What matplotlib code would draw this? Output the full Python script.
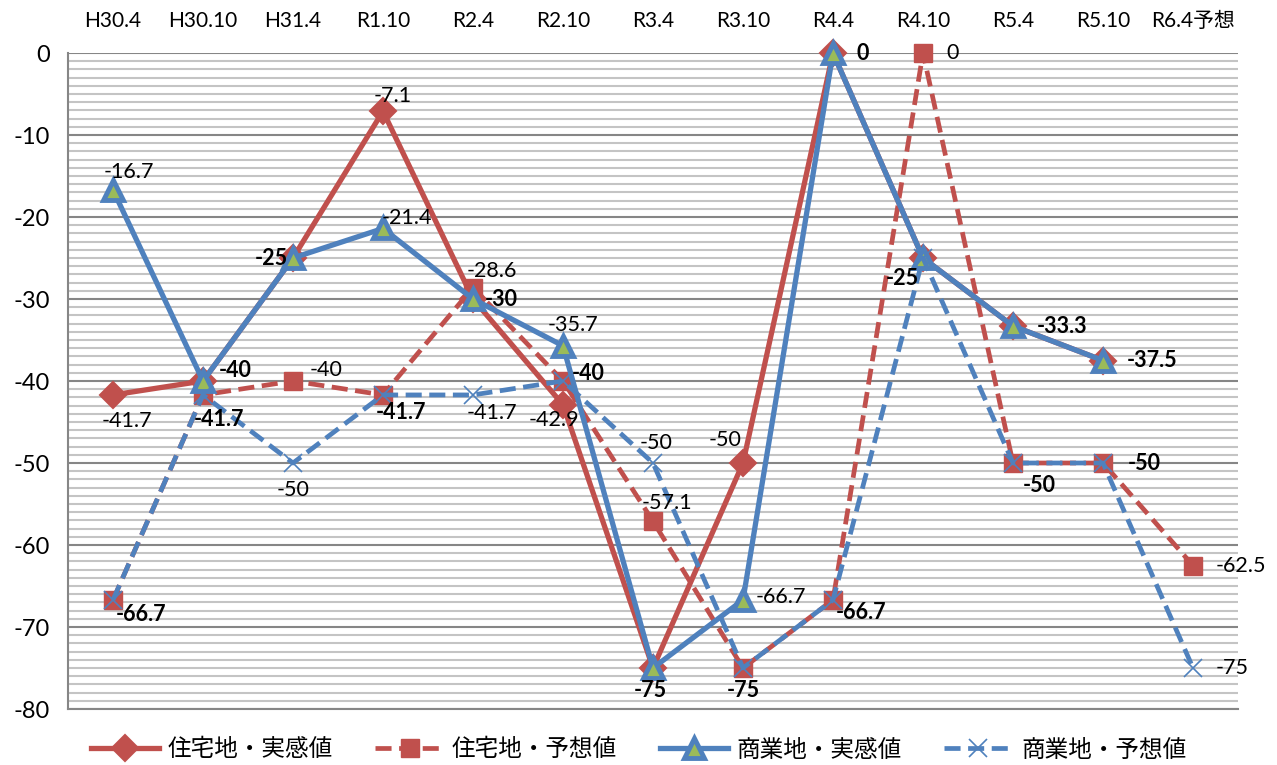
import numpy as np
import matplotlib
matplotlib.use('Agg')
import matplotlib.pyplot as plt
from matplotlib.ticker import MultipleLocator
from collections import Counter

plt.rcParams['font.family'] = ['Lato', 'Noto Sans CJK JP']

periods = ['H30.4', 'H30.10', 'H31.4', 'R1.10', 'R2.4', 'R2.10', 'R3.4',
           'R3.10', 'R4.4', 'R4.10', 'R5.4', 'R5.10', 'R6.4予想']

res_actual = [-41.7, -40, -25, -7.1, -30, -42.9, -75, -50, 0, -25, -33.3, -37.5, np.nan]
res_forecast = [-66.7, -41.7, -40, -41.7, -28.6, -40, -57.1, -75, -66.7, 0, -50, -50, -62.5]
com_actual = [-16.7, -40, -25, -21.4, -30, -35.7, -75, -66.7, 0, -25, -33.3, -37.5, np.nan]
com_forecast = [-66.7, -41.7, -50, -41.7, -41.7, -40, -50, -75, -66.7, -25, -50, -50, -75]

names = ['住宅地・実感値', '住宅地・予想値', '商業地・実感値', '商業地・予想値']

# label offsets in pixels (right, down) from each point
res_actual_off = [(14, 26), (32, -11), (-22, 0), (10, -15), (28, 0), (-9, 15), (-3, 22),
                  (-18, -23), (30, 0), (-21, 20), (49, 0), (49, 0), None]
res_forecast_off = [(28, 15), (16, 25), (33, -11), (18, 18), (19, -17), (25, -8), (14, -18),
                    (0, 22), (28, 13), (30, 0), (26, 22), (41, 0), (48, 0)]
com_actual_off = [(16, -18), (32, -11), (-22, 0), (24, -10), (28, 0), (10, -21), (-3, 22),
                  (38, -3), (30, 0), (-21, 20), (49, 0), (49, 0), None]
com_forecast_off = [(28, 15), (16, 25), (0, 27), (18, 18), (19, 18), (25, -8), (3, -20),
                    (0, 22), (28, 13), (-21, 20), (26, 22), (41, 0), (39, 0)]

red = '#C0504D'
blue = '#4F81BD'
green = '#9BBB59'

W, H = 1277, 765
fig = plt.figure(figsize=(W / 100, H / 100), dpi=100)
ax = fig.add_axes([68 / W, 1 - 709 / H, (1238 - 68) / W, (709 - 53) / H])

x = np.arange(len(periods))
dash = (3.4, 1.6)

l1, = ax.plot(x, res_actual, color=red, lw=3.8, marker='D', ms=13, mfc=red, mec=red,
              mew=1.5, clip_on=False, zorder=3)
l2, = ax.plot(x, res_forecast, color=red, lw=3.4, dashes=dash, marker='s', ms=13.5, mfc=red,
              mec=red, mew=1, clip_on=False, zorder=4)
l3, = ax.plot(x, com_actual, color=blue, lw=3.8, marker='^', ms=15, mfc=green, mec=blue,
              mew=3.5, clip_on=False, zorder=5)
l4, = ax.plot(x, com_forecast, color=blue, lw=3.4, dashes=dash, marker='x', ms=13,
              mec=blue, mew=1.2, clip_on=False, zorder=6)
for ln in (l2, l4):
    ln.set_dash_capstyle('butt')

# data labels; identical labels stacked on each other look bold
labels = []
for vals, offs in [(res_actual, res_actual_off), (res_forecast, res_forecast_off),
                   (com_actual, com_actual_off), (com_forecast, com_forecast_off)]:
    for i, (v, o) in enumerate(zip(vals, offs)):
        if o is None or np.isnan(v):
            continue
        txt = '0' if v == 0 else f'{v:g}'
        labels.append((i, v, txt, o))
cnt = Counter((i, t, o) for i, v, t, o in labels)
done = set()
for i, v, t, o in labels:
    key = (i, t, o)
    if key in done:
        continue
    done.add(key)
    ax.annotate(t, (i, v), xytext=(o[0], -o[1]), textcoords='offset pixels',
                ha='center', va='center', fontsize=15.5,
                fontweight='bold' if cnt[key] > 1 else 'normal', zorder=10)

ax.set_xlim(-0.5, len(periods) - 0.5)
ax.set_ylim(-80, 0)
ax.set_xticks(x)
ax.set_xticklabels(periods, fontsize=15)
ax.xaxis.tick_top()
ax.tick_params(axis='x', length=0, pad=16)
ax.yaxis.set_major_locator(MultipleLocator(10))
ax.yaxis.set_minor_locator(MultipleLocator(1))
ax.tick_params(axis='y', which='both', length=0, pad=13, labelsize=17)
ax.yaxis.set_major_formatter(plt.FuncFormatter(lambda v, p: f'{v:g}'))

ax.grid(True, which='minor', axis='y', color='#c4c4c4', lw=1.5, zorder=0)
ax.grid(True, which='major', axis='y', color='#868686', lw=1.5, zorder=0)
ax.set_axisbelow(True)
for s in ['top', 'right']:
    ax.spines[s].set_visible(False)
for s in ['left', 'bottom']:
    ax.spines[s].set_color('#868686')
    ax.spines[s].set_linewidth(1.5)

fig.legend([l1, l2, l3, l4], names, loc='center', bbox_to_anchor=(0.5, 1 - 750 / H),
           ncol=4, frameon=False, handlelength=2.9, handletextpad=0.35, columnspacing=1.8,
           prop={'family': 'Noto Sans CJK JP', 'size': 17})

fig.savefig('out.png', dpi=100)
